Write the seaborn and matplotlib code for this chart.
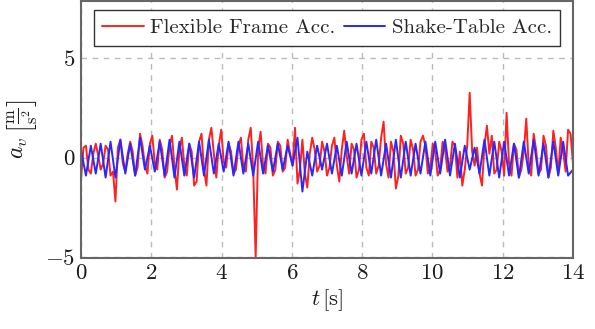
import numpy as np
import pandas as pd
import matplotlib
matplotlib.use("Agg")
import matplotlib.pyplot as plt
import seaborn as sns

# ---- data ----
blue_vals = [
    0.4, -0.9, 0.6, -0.8, 0.7, -1.0, 0.8, -1.0, 0.9, -0.8,
    0.7, -0.9, 1.0, -0.6, 0.6, -0.7, 0.8, -0.9, 0.9, -1.0,
    0.8, -0.9, 0.7, -1.0, 0.8, -0.9, 0.9, -0.8, 0.7, -0.7,
    0.8, -0.9, 0.8, -0.8, 0.7, -0.9, 0.8, -0.8, 0.6, -0.7,
    0.7, -0.6, 0.6, -0.4, 1.0, -1.7, 0.3, -0.9, 0.6, -0.6,
    0.7, -0.8, 0.6, -0.9, 0.8, -0.8, 0.7, -0.9, 0.8, -0.8,
    0.9, -0.9, 0.7, -1.0, 0.9, -1.0, 0.8, -0.9, 0.7, -0.8,
    0.8, -0.9, 0.8, -0.8, 0.9, -0.9, 0.7, -1.0, 0.6, -0.6,
    0.5, -0.8, 0.9, -0.9, 0.8, -1.0, 0.8, -0.9, 0.7, -1.0,
    0.8, -0.8, 0.9, -0.9, 0.7, -1.0, 0.8, -0.9, 0.8, -0.9,
    -0.6,
]
red_vals = [
    -1.1, 0.5, 0.6, -0.6, -0.8, 0.2, 0.7, 0.1, -0.6, -0.3, 0.6, 0.4, -0.9, -0.7, -2.2, 0.5, 0.9, -0.3, -0.7, 0.2,
    0.8, 0.3, -0.9, -0.5, 1.2, 0.6, -0.4, -0.8, 0.7, 1.1, -0.3, -0.6, 0.9, 0.4, -1.0, -0.7, 0.6, 1.1, -0.5, -1.6,
    0.4, 1.0, -0.4, -0.9, 0.7, 0.3, -1.4, -1.2, 0.8, 1.2, -0.6, -1.4, 0.9, 1.5, 0.2, -1.0, 0.6, 1.4, -0.2, -0.5,
    0.7, 0.3, -0.8, -0.6, 0.6, 1.0, -0.5, -0.7, 0.9, 1.5, -0.6, -5.0, 0.4, 1.3, -0.4, -0.8, 0.7, 0.5, -0.9, -0.6,
    0.8, 0.6, -0.7, -0.5, 0.9, 0.2, -0.4, 1.5, -1.3, -0.6, 0.9, -0.8, -1.5, 0.2, 1.0, 0.4, -0.7, -0.4, 0.8, 0.3,
    -0.9, -0.5, 0.6, 1.0, -0.4, -1.2, 0.4, 1.35, 0.1, -0.8, 0.7, 0.4, -1.0, -0.6, 0.9, 1.2, -0.5, -0.9, 0.8, 0.5,
    -0.8, -0.4, 1.0, 1.8, -0.3, -1.0, 0.8, 0.3, -1.55, -0.9, 1.1, 0.7, -0.8, -0.5, 0.9, 0.4, -0.9, -0.6, 0.8, 1.1,
    0.6, -0.8, -0.5, 0.7, 0.3, -0.9, -0.6, 0.8, 0.4, -0.7, -0.4, 0.8, 0.6, -1.0, 0.3, -1.4, -0.6, 0.6, 3.25, 0.3,
    -0.4, 0.5, -0.8, -1.4, 0.6, 1.6, 0.2, 1.1, -0.8, -0.6, 0.8, 0.3, -0.9, 2.25, -0.3, -0.9, 0.7, 0.4, -1.0, -0.6,
    0.3, 1.95, -0.4, -0.9, 1.2, 0.4, -0.8, -0.6, 1.1, 0.6, -1.0, -0.5, 1.35, 0.5, -0.8, 1.0, 0.3, -0.7, 1.4, 1.2,
    -0.3,
]
t_end = 14.0
series_names = ["Flexible Frame Acc.", "Shake-Table Acc."]
x_ticks = [0, 2, 4, 6, 8, 10, 12, 14]
y_ticks = [-5, 0, 5]

t_red = np.linspace(0, t_end, len(red_vals))
t_blue = np.linspace(0, t_end, len(blue_vals))
df = pd.concat([
    pd.DataFrame({"t": t_red, "a": red_vals, "series": series_names[0]}),
    pd.DataFrame({"t": t_blue, "a": blue_vals, "series": series_names[1]}),
], ignore_index=True)

# ---- style ----
sns.set_style("white")
plt.rcParams["font.family"] = ["cmr10", "DejaVu Serif"]
plt.rcParams["mathtext.fontset"] = "cm"
plt.rcParams["axes.unicode_minus"] = False
plt.rcParams["axes.formatter.use_mathtext"] = True

fig = plt.figure(figsize=(5.95, 3.29), dpi=100)
ax = fig.add_axes([81 / 595, 1 - 258 / 329, 492 / 595, 257 / 329])

sns.lineplot(data=df, x="t", y="a", hue="series",
             palette={series_names[0]: "#ff2020", series_names[1]: "#2828ff"},
             linewidth=1.4, ax=ax, legend=True, estimator=None, sort=False)

ax.set_xlim(0, 14)
ax.set_ylim(-5.03, 7.85)
ax.set_xticks(x_ticks)
ax.set_xticklabels([f"${v}$" for v in x_ticks])
ax.set_yticks(y_ticks)
ax.set_yticklabels([f"${v}$" if v >= 0 else f"$-{abs(v)}$" for v in y_ticks])
ax.tick_params(axis="both", direction="in", length=4, width=0.8, colors="#555555",
               labelsize=16.5, labelcolor="#1a1a1a", pad=4)
ax.grid(True, linestyle=(0, (4, 4)), color="#bbbbbb", linewidth=1.0)
for s in ax.spines.values():
    s.set_color("#666666")
    s.set_linewidth(1.5)

ax.set_xlabel(r"$t\,[\mathrm{s}]$", fontsize=16.5, color="#1a1a1a", labelpad=3)
ax.set_ylabel(r"$a_v\,\left[\frac{\mathrm{m}}{\mathrm{s}^2}\right]$", fontsize=17,
              color="#1a1a1a", labelpad=4)

handles, labels = ax.get_legend_handles_labels()
leg = ax.legend(handles, labels, loc="upper center", bbox_to_anchor=(0.5, 1.0), ncol=2,
                frameon=True, fancybox=False, edgecolor="#333333", framealpha=1,
                fontsize=15.0, handlelength=2.0, handletextpad=0.3, columnspacing=0.4,
                borderpad=0.4, borderaxespad=0.45)
leg.get_frame().set_linewidth(1.0)

fig.savefig("out.png", dpi=100)
